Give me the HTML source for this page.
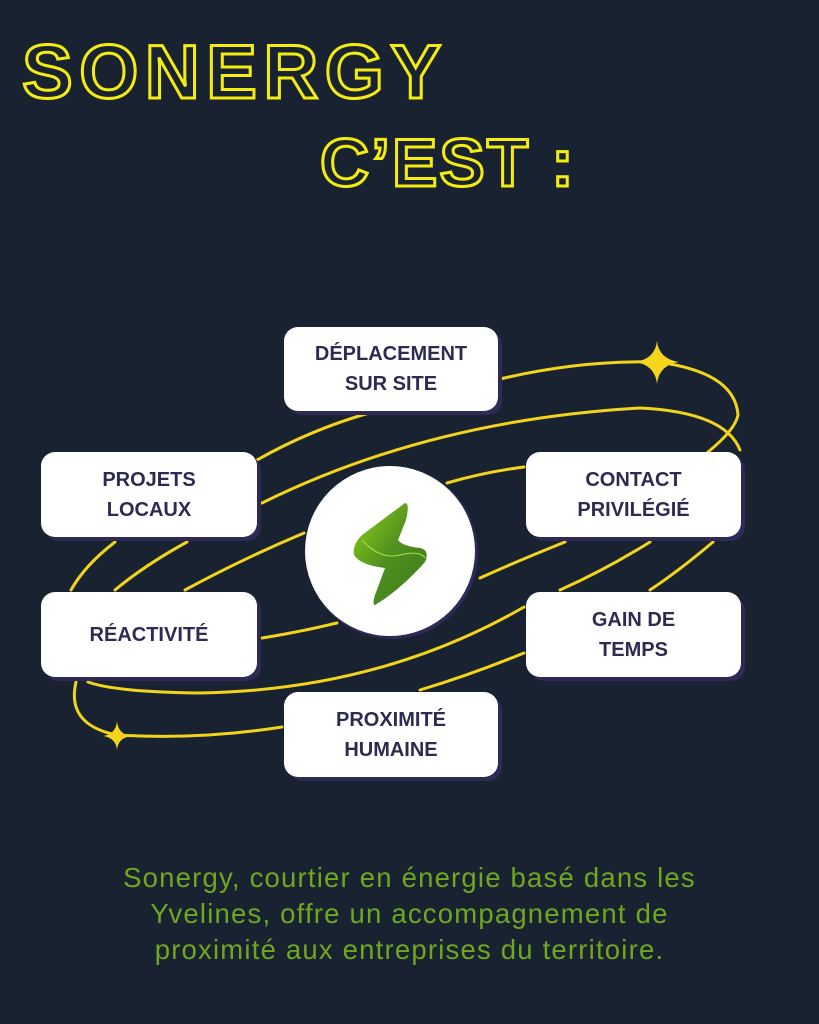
<!DOCTYPE html>
<html><head><meta charset="utf-8"><style>
html,body{margin:0;padding:0}
body{width:819px;height:1024px;background:#182231;position:relative;overflow:hidden;font-family:"Liberation Sans",sans-serif}
.t{position:absolute;font-weight:bold;color:transparent;-webkit-text-stroke:3px #f5ec0f;white-space:nowrap;line-height:1}
.box{position:absolute;background:#fff;border-radius:14px;box-shadow:4px 4px 0 #2e2a55;display:flex;align-items:center;justify-content:center;text-align:center;color:#2e2b52;font-weight:bold;font-size:20px;line-height:30px}
.p{position:absolute;left:0;width:819px;text-align:center;color:#6fa81f;font-size:27.5px;letter-spacing:1.2px;line-height:36px}
</style></head><body>
<div class="t" style="left:22px;top:35px;font-size:76px;letter-spacing:6.5px">SONERGY</div>
<div class="t" style="left:320px;top:129px;font-size:68px;letter-spacing:2px">C’EST :</div>
<svg width="819" height="1024" style="position:absolute;left:0;top:0">
<g fill="none" stroke="#f2d41d" stroke-width="3" stroke-linecap="round">
<path d="M257,460 Q310,430 369,413"/>
<path d="M262,503 Q430,420 640,408 Q725,412 740,450"/>
<path d="M447,483 Q485,472 524,467"/>
<path d="M304,533 Q240,560 185,590"/>
<path d="M187,542 Q145,565 115,590"/>
<path d="M115,542 Q85,565 71,590"/>
<path d="M262,638 Q300,632 337,623"/>
<path d="M480,578 Q520,560 565,542"/>
<path d="M650,542 Q605,570 560,590"/>
<path d="M713,542 Q680,570 650,590"/>
<path d="M524,607 Q380,690 200,693 Q115,692 88,682"/>
<path d="M524,653 Q470,675 420,690"/>
<path d="M76,682 Q66,725 117,735 Q200,740 282,727"/>
<path d="M500,379 Q580,360 657,362 Q735,372 738,415 Q735,430 708,452"/>
</g>
<path fill="#f6d51d" d="M657,341 Q659,359 679,362 Q659,365 657,384 Q655,365 635,362 Q655,359 657,341Z"/>
<path fill="#f6d51d" d="M117,721 Q118,734 131,736 Q118,738 117,750 Q116,738 103,736 Q116,734 117,721Z"/>
<circle cx="392" cy="553" r="86" fill="#2e2a55"/>
<circle cx="390" cy="551" r="85" fill="#fff"/>
<defs><linearGradient id="g" x1="0" y1="0" x2="1" y2="1"><stop offset="0" stop-color="#8fd21a"/><stop offset="0.5" stop-color="#4f8f1f"/><stop offset="1" stop-color="#3f7a1a"/></linearGradient></defs>
<path fill="url(#g)" d="M405,503 Q410,503 406,520 L398,540 Q402,546 420,548 Q430,550 425,562 Q400,590 375,605 Q372,605 375,595 L385,568 Q360,565 354,555 Q352,545 362,535 Z"/>
<path fill="none" stroke="#a6e34a" stroke-width="1" d="M362,540 Q380,560 400,555 Q420,550 425,558"/>
</svg>
<div class="box" style="left:284px;top:327px;width:214px;height:84px">DÉPLACEMENT<br>SUR SITE</div>
<div class="box" style="left:41px;top:452px;width:216px;height:85px">PROJETS<br>LOCAUX</div>
<div class="box" style="left:526px;top:452px;width:215px;height:85px">CONTACT<br>PRIVILÉGIÉ</div>
<div class="box" style="left:41px;top:592px;width:216px;height:85px">RÉACTIVITÉ</div>
<div class="box" style="left:526px;top:592px;width:215px;height:85px">GAIN DE<br>TEMPS</div>
<div class="box" style="left:284px;top:692px;width:214px;height:85px">PROXIMITÉ<br>HUMAINE</div>
<div class="p" style="top:860px">Sonergy, courtier en énergie basé dans les</div>
<div class="p" style="top:896px">Yvelines, offre un accompagnement de</div>
<div class="p" style="top:932px">proximité aux entreprises du territoire.</div>
</body></html>
